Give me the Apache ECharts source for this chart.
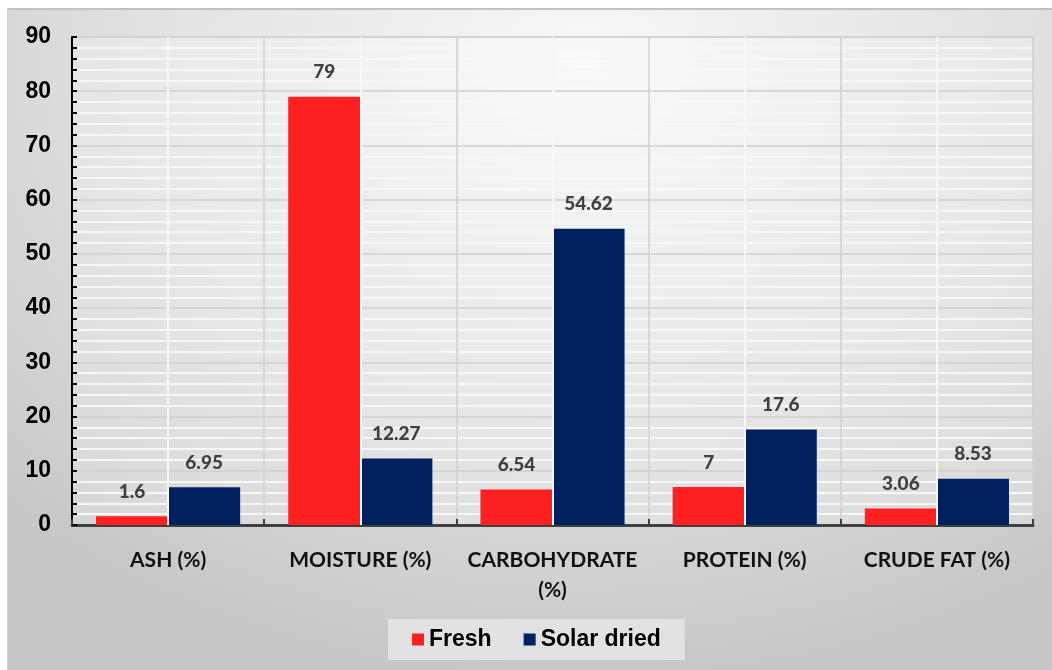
<!DOCTYPE html>
<html>
<head>
    <meta charset="utf-8">
    <title>Proximate composition - bar chart</title>
    <script src="https://cdn.jsdelivr.net/npm/echarts@6/dist/echarts.min.js"></script>
    <style>
        body { margin: 0; background: #fff; }
        #bg {
            position: absolute; left: 7px; top: 8px; width: 1045px; height: 662px;
            border-top: 2px solid #c2c2c2; border-left: 1px solid #d0d0d0;
            background: radial-gradient(ellipse 80% 95% at 55% 8%, #f8f8f8 0%, #e0e0e0 55%, #c6c6c6 100%);
        }
        #main { position: absolute; left: 0; top: 0; width: 1052px; height: 670px; }
    </style>
</head>
<body>
    <div id="bg"></div>
    <div id="main"></div>
    <script type="text/javascript">
        var categories = ['ASH (%)', 'MOISTURE (%)', 'CARBOHYDRATE\n(%)', 'PROTEIN (%)', 'CRUDE FAT (%)'];
        var freshData = [1.6, 79, 6.54, 7, 3.06]; // Fresh
        var solarData = [6.95, 12.27, 54.62, 17.6, 8.53]; // Solar dried
        var yTicks = { min: 0, max: 90, step: 10 };

        var myChart = echarts.init(document.getElementById('main'));

        var valueLabel = {
            show: true,
            position: 'top',
            distance: 15,
            color: '#404040',
            fontFamily: 'Lato',
            fontWeight: 900,
            fontSize: 19
        };

        var option = {
            backgroundColor: 'transparent',
            animation: false,
            grid: {
                left: 72, right: 19, top: 37, bottom: 145,
                show: true,
                backgroundColor: 'rgba(255,255,255,0.25)',
                borderColor: '#d2d2d2',
                borderWidth: 1
            },
            legend: {
                data: ['Fresh', 'Solar dried'],
                left: 388, top: 619,
                backgroundColor: '#e2e2e2',
                padding: [9, 24, 9, 24],
                icon: 'rect',
                itemWidth: 12, itemHeight: 12,
                itemGap: 32,
                textStyle: { fontFamily: 'Liberation Sans', fontWeight: 'bold', fontSize: 23, color: '#000' }
            },
            xAxis: {
                type: 'category',
                data: categories,
                axisLine: { lineStyle: { color: '#404040', width: 3 } },
                axisTick: { show: true, inside: true, length: 6, lineStyle: { color: '#404040', width: 2 } },
                axisLabel: {
                    interval: 0,
                    margin: 20,
                    color: '#111',
                    fontFamily: 'Lato',
                    fontWeight: 'bold',
                    fontSize: 21,
                    lineHeight: 30
                },
                splitLine: { show: true, lineStyle: { color: '#d0d0d0', width: 1.5 } }
            },
            yAxis: {
                type: 'value',
                min: yTicks.min, max: yTicks.max, interval: yTicks.step,
                axisLine: { show: true, lineStyle: { color: '#000', width: 2 } },
                axisTick: { show: true, inside: true, length: 5, lineStyle: { color: '#000', width: 2 } },
                minorTick: { show: true, splitNumber: 5, length: 5, lineStyle: { color: '#000', width: 2 } },
                axisLabel: {
                    margin: 21,
                    color: '#000',
                    fontFamily: 'Liberation Sans',
                    fontWeight: 'bold',
                    fontSize: 23
                },
                splitLine: { show: true, lineStyle: { color: '#cfcfcf', width: 1.5 } },
                minorSplitLine: { show: true, lineStyle: { color: '#f7f7f7', width: 2 } }
            },
            series: [{
                // white centre lines of each category
                name: 'centres',
                type: 'line',
                data: ['-', '-', '-', '-', '-'],
                z: 1,
                silent: true,
                markLine: {
                    silent: true,
                    symbol: 'none',
                    label: { show: false },
                    lineStyle: { color: '#f7f7f7', width: 2, type: 'solid' },
                    data: categories.map(function(c) { return { xAxis: c }; })
                }
            }, {
                name: 'Fresh',
                type: 'bar',
                z: 2,
                barGap: '0%',
                barCategoryGap: '25%',
                itemStyle: { color: '#ff2121' },
                label: valueLabel,
                data: freshData
            }, {
                name: 'Solar dried',
                type: 'bar',
                z: 2,
                itemStyle: { color: '#002060' },
                label: valueLabel,
                data: solarData
            }]
        };

        myChart.setOption(option);
        window.onresize = myChart.resize;
    </script>
</body>
</html>
